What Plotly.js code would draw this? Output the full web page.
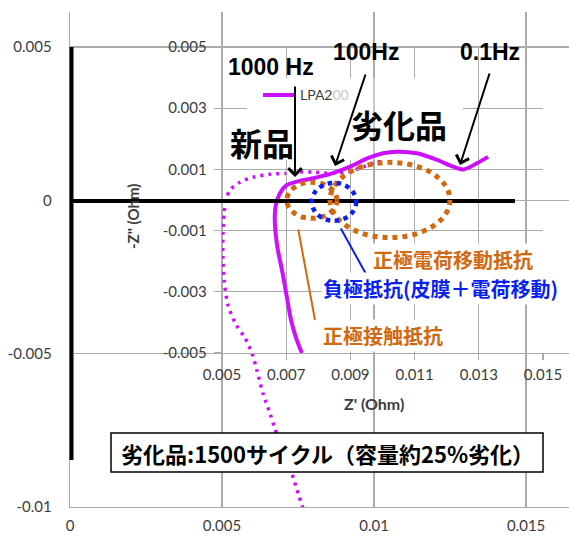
<!DOCTYPE html>
<html>
<head>
<meta charset="utf-8">
<script src="https://cdn.plot.ly/plotly-3.0.1.min.js"></script>
<style>
  html, body { margin: 0; padding: 0; background: #fff; }
  #chart { width: 569px; height: 536px; }
</style>
</head>
<body>
<div id="chart"></div>
<script>
// Degraded cell (1500 cycles), inner chart: Z' and -Z'' in Ohm
const degradedZr = [0.00749, 0.00731, 0.00715, 0.00702, 0.00687, 0.00674, 0.00665, 0.00665,
    0.00668, 0.00681, 0.00702, 0.00734, 0.00783, 0.00843, 0.00899, 0.00952, 0.01002, 0.01045,
    0.01107, 0.0117, 0.0122, 0.01251, 0.01294, 0.01329];
const degradedZi = [-0.005, -0.00451, -0.00392, -0.00317, -0.00229, -0.00163, -0.00082, -0.00039,
    -0.00016, 0.00023, 0.00049, 0.0006, 0.00071, 0.00087, 0.00109, 0.00136, 0.00153, 0.00158,
    0.00153, 0.00131, 0.00109, 0.001, 0.0012, 0.00141];

// New cell, outer chart
const newZr = [0.01023, 0.0097, 0.00921, 0.00862, 0.00806, 0.00757, 0.00714, 0.00658, 0.00602,
    0.00559, 0.00526, 0.00513, 0.00507, 0.00503, 0.00503, 0.00507, 0.0052, 0.00546, 0.00575,
    0.00599, 0.00615, 0.00635, 0.00658, 0.00674, 0.00701, 0.0073, 0.00753, 0.00766];
const newZi = [0.00131, 0.00111, 0.00095, 0.00088, 0.00092, 0.00092, 0.00088, 0.00085, 0.00075,
    0.00059, 0.00033, 0, -0.00042, -0.00108, -0.00186, -0.00261, -0.00343, -0.00405, -0.00448,
    -0.005, -0.00556, -0.00631, -0.00696, -0.00745, -0.00817, -0.00892, -0.00964, -0.01003];

// tick labels
const outerXTicks = [0, 0.005, 0.01, 0.015];
const outerXLabels = ['0', '0.005', '0.01', '0.015'];
const outerYTicks = [-0.01, -0.005, 0, 0.005];
const outerYLabels = ['-0.01', '-0.005', '0', '0.005'];
const innerXTicks = [0.005, 0.007, 0.009, 0.011, 0.013, 0.015];
const innerXLabels = ['0.005', '0.007', '0.009', '0.011', '0.013', '0.015'];
const innerYTicks = [-0.005, -0.003, -0.001, 0.001, 0.003, 0.005];
const innerYLabels = ['-0.005', '-0.003', '-0.001', '0.001', '0.003', '0.005'];

// pixel -> paper helpers (plot area is 70..569 x 12..507)
const px = v => (v - 70) / 499;
const py = v => (507 - v) / 495;

const GRID = '#ababab';
const ORANGE = '#d0690f';
const BLUE = '#0a1ff0';
const MAGENTA = '#cc10ff';
const tickFont = { family: 'Lato, sans-serif', size: 15, color: '#3c3c3c' };
const cjk = '"Noto Sans CJK JP", sans-serif';
const latin = '"Liberation Sans", Arial, sans-serif';

const traces = [
    {
        x: newZr, y: newZi, xaxis: 'x', yaxis: 'y',
        mode: 'lines', hoverinfo: 'skip',
        line: { color: MAGENTA, width: 3.5, dash: '3px,5px', shape: 'spline', smoothing: 0.8 }
    },
    {
        x: degradedZr, y: degradedZi, xaxis: 'x2', yaxis: 'y2',
        mode: 'lines', hoverinfo: 'skip',
        line: { color: MAGENTA, width: 4, shape: 'spline' }
    }
];

function arrow(hx, hy, tx, ty, color, width, head) {
    return {
        xref: 'paper', yref: 'paper', x: px(hx), y: py(hy),
        ax: tx - hx, ay: ty - hy, text: '', showarrow: true,
        arrowhead: head, arrowsize: 1.3, arrowwidth: width, arrowcolor: color, standoff: 0
    };
}

function label(text, x, y, font, extra) {
    return Object.assign({
        xref: 'paper', yref: 'paper', x: px(x), y: py(y), text: text,
        showarrow: false, xanchor: 'center', yanchor: 'middle', font: font
    }, extra || {});
}

const layout = {
    width: 569, height: 536,
    margin: { l: 70, r: 0, t: 12, b: 29 },
    paper_bgcolor: '#ffffff',
    plot_bgcolor: 'rgba(0,0,0,0)',
    showlegend: false,
    xaxis: {
        range: [0, 0.01641], tickvals: outerXTicks, ticktext: outerXLabels,
        showgrid: true, gridcolor: GRID, gridwidth: 1.3, zeroline: false,
        showline: true, linecolor: GRID, linewidth: 1.3,
        ticks: '', ticklabelstandoff: 5, tickfont: tickFont
    },
    yaxis: {
        range: [-0.01, 0.00614], tickvals: outerYTicks, ticktext: outerYLabels,
        showgrid: true, gridcolor: GRID, gridwidth: 1.3, zeroline: false,
        showline: true, linecolor: GRID, linewidth: 1.3,
        ticks: '', ticklabelstandoff: 14, tickfont: tickFont
    },
    xaxis2: {
        domain: [px(222), px(543)], anchor: 'y2',
        range: [0.005, 0.015], tickvals: innerXTicks, ticktext: innerXLabels,
        showgrid: true, gridcolor: GRID, gridwidth: 1.3, zeroline: false,
        showline: true, linecolor: GRID, linewidth: 1.3,
        ticks: 'outside', ticklen: 6, tickcolor: GRID, tickwidth: 1.3,
        ticklabelstandoff: 2, tickfont: tickFont
    },
    yaxis2: {
        domain: [py(353), py(47)], anchor: 'x2',
        range: [-0.005, 0.005], tickvals: innerYTicks, ticktext: innerYLabels,
        showgrid: true, gridcolor: GRID, gridwidth: 1.3, zeroline: false,
        showline: true, linecolor: GRID, linewidth: 1.3,
        ticks: 'outside', ticklen: 7, tickcolor: GRID, tickwidth: 1.3,
        ticklabelstandoff: 4, tickfont: tickFont
    },
    shapes: [
        // legend box area hiding inner gridlines
        { type: 'rect', xref: 'x2', yref: 'y2', x0: 0.005779, x1: 0.012508, y0: 0.001307, y1: 0.003987,
          fillcolor: '#ffffff', line: { width: 0 }, layer: 'between' },
        // outer 0.01 gridline stays visible through that box
        { type: 'line', xref: 'x2', yref: 'y2', x0: 0.009735, x1: 0.009735, y0: 0.0013, y1: 0.004,
          line: { color: GRID, width: 1.3 }, layer: 'between' },
        // legend line sample
        { type: 'line', xref: 'paper', yref: 'paper', x0: px(263), x1: px(295), y0: py(95), y1: py(95),
          line: { color: MAGENTA, width: 4 } },
        // thick axis lines
        { type: 'line', xref: 'paper', yref: 'paper', x0: px(71.5), x1: px(71.5), y0: py(47), y1: py(460),
          line: { color: '#000', width: 4 } },
        { type: 'line', xref: 'paper', yref: 'paper', x0: px(71), x1: px(515), y0: py(201), y1: py(201),
          line: { color: '#000', width: 4 } },
        // dotted ellipses
        { type: 'circle', xref: 'x2', yref: 'y2', x0: 0.008365, x1: 0.0121, y0: -0.00123, y1: 0.00123,
          line: { color: ORANGE, width: 5, dash: '5px,5px' } },
        { type: 'circle', xref: 'x2', yref: 'y2', x0: 0.00702, x1: 0.00858, y0: -0.0006, y1: 0.00058,
          line: { color: ORANGE, width: 5, dash: '5px,5px' } },
        { type: 'circle', xref: 'x2', yref: 'y2', x0: 0.0078, x1: 0.00918, y0: -0.00068, y1: 0.00056,
          line: { color: BLUE, width: 4.5, dash: '4.5px,4.5px' } },
        // caption box
        { type: 'rect', xref: 'paper', yref: 'paper', x0: px(111), x1: px(543), y0: py(472), y1: py(433),
          fillcolor: '#ffffff', line: { color: '#000', width: 1.5 }, layer: 'above' }
    ],
    annotations: [
        label('1000 Hz', 270.5, 67, { family: latin, size: 23, color: '#000', weight: 'bold' }),
        label('100Hz', 365.5, 52, { family: latin, size: 23, color: '#000', weight: 'bold' }),
        label('0.1Hz', 489.5, 52, { family: latin, size: 23, color: '#000', weight: 'bold' }),
        label('新品', 261.5, 142, { family: cjk, size: 32, color: '#000', weight: 'bold' }),
        label('劣化品', 399, 124, { family: cjk, size: 32, color: '#000', weight: 'bold' }),
        label('LPA2<span style="color:#c8c8c8">00</span>', 298, 95,
            { family: 'Lato, sans-serif', size: 14, color: '#404040' }, { xanchor: 'left' }),
        arrow(295, 177, 295, 85, '#000', 2, 4),
        arrow(335, 166, 366, 73, '#000', 2, 4),
        arrow(460, 165, 490, 72, '#000', 2, 4),
        arrow(315, 320, 298, 228, ORANGE, 2, 0),
        arrow(366, 274, 340, 227, BLUE, 2, 0),
        label('正極電荷移動抵抗', 452.5, 259, { family: cjk, size: 20, color: ORANGE, weight: 'bold' }, { bgcolor: '#ffffff' }),
        label('負極抵抗(皮膜＋電荷移動)', 440, 288, { family: cjk, size: 20, color: BLUE, weight: 'bold' }, { bgcolor: '#ffffff' }),
        label('正極接触抵抗', 383, 335, { family: cjk, size: 20, color: ORANGE, weight: 'bold' }, { bgcolor: '#ffffff' }),
        label("Z' (Ohm)", 374, 403, { family: 'Lato, sans-serif', size: 16, color: '#3c3c3c', weight: 'bold' }),
        label("-Z'' (Ohm)", 133, 217, { family: 'Lato, sans-serif', size: 15, color: '#3c3c3c', weight: 'bold' }, { textangle: -90 }),
        label('劣化品:1500サイクル（容量約25%劣化）', 327, 452.5, { family: cjk, size: 22, color: '#000', weight: 'bold' })
    ]
};

Plotly.newPlot('chart', traces, layout, { staticPlot: true, displayModeBar: false });
</script>
</body>
</html>
